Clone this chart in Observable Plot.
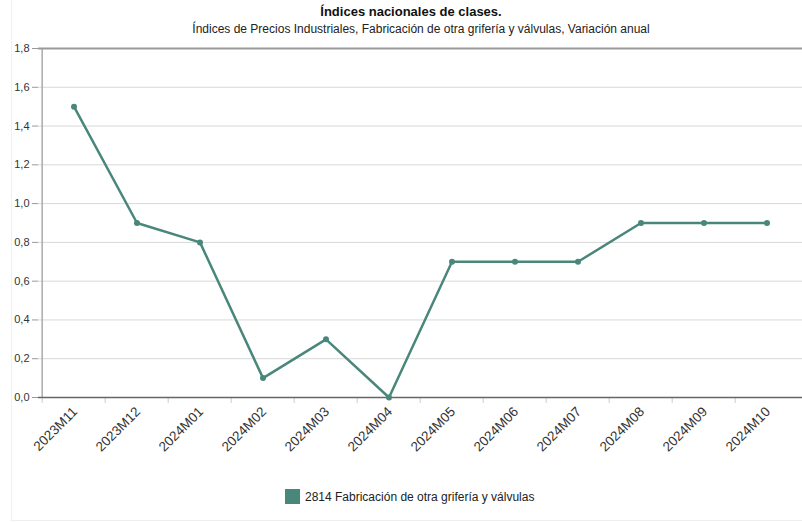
<!DOCTYPE html>
<html>
<head>
<meta charset="utf-8">
<script src="https://cdn.jsdelivr.net/npm/d3@7"></script>
<script src="https://cdn.jsdelivr.net/npm/@observablehq/plot@0.6"></script>
<style>
  html, body { margin: 0; padding: 0; background: #fff; }
  body { width: 802px; height: 522px; position: relative; overflow: hidden; font-family: "Liberation Sans", Arial, sans-serif; }
  #title { position: absolute; top: 4px; left: 10px; width: 802px; text-align: center; font-weight: bold; font-size: 13px; color: #111; }
  #subtitle { position: absolute; top: 22px; left: 20px; width: 802px; text-align: center; font-size: 12px; color: #222; }
  #chart { position: absolute; top: 40px; left: 0; }
  #legend { position: absolute; top: 489px; left: 285px; font-size: 12px; color: #222; display: flex; align-items: center; }
  #legend .sw { width: 15px; height: 15px; margin-right: 5px; }
  #frame { position: absolute; left: 11px; top: 0; width: 790px; height: 520px; border-left: 1px solid #f0f0f0; border-bottom: 1px solid #eee; }
</style>
</head>
<body>
<div id="frame"></div>
<div id="title">Índices nacionales de clases.</div>
<div id="subtitle">Índices de Precios Industriales, Fabricación de otra grifería y válvulas, Variación anual</div>
<div id="chart"></div>
<div id="legend"></div>
<script>
const periods = ["2023M11","2023M12","2024M01","2024M02","2024M03","2024M04","2024M05","2024M06","2024M07","2024M08","2024M09","2024M10"];
const values = [1.5, 0.9, 0.8, 0.1, 0.3, 0.0, 0.7, 0.7, 0.7, 0.9, 0.9, 0.9];
const yTicks = [0, 0.2, 0.4, 0.6, 0.8, 1.0, 1.2, 1.4, 1.6, 1.8];
const seriesName = "2814 Fabricación de otra grifería y válvulas";
const color = "#4a877b";

const data = periods.map((p, i) => ({period: p, value: values[i]}));
const W = 802, mL = 38, mR = 0;
const bw = (W - mL - mR) / periods.length;
const fmt = d => d.toFixed(1).replace(".", ",");

const chart = Plot.plot({
  width: W,
  height: 440,
  marginTop: 8,
  marginBottom: 83,
  marginLeft: mL,
  marginRight: mR,
  style: {fontFamily: "Liberation Sans, Arial, sans-serif", fontSize: "11px", color: "#333", background: "transparent"},
  x: {type: "band", domain: periods, padding: 0},
  y: {domain: [0, 1.8]},
  marks: [
    Plot.gridY(yTicks, {stroke: "#d8d8d8", strokeOpacity: 1}),
    Plot.ruleX([periods[0]], {dx: -bw / 2, stroke: "#aaa", strokeWidth: 1.5}),
    Plot.ruleY([1.8], {stroke: "#999", strokeWidth: 2}),
    Plot.axisY({ticks: yTicks, tickFormat: fmt, tickSize: 6, tickPadding: 3, stroke: "#999", fill: "#333", fontSize: 11, label: null}),
    Plot.axisX({tickSize: 6, tickFormat: () => "", dx: -bw / 2, stroke: "#ccc", label: null}),
    Plot.axisX({tickSize: 0, tickRotate: -45, tickPadding: 12, dx: 1, fill: "#333", fontSize: 13.5, label: null}),
    Plot.ruleY([0], {stroke: "#666", strokeWidth: 1.5}),
    Plot.line(data, {x: "period", y: "value", stroke: color, strokeWidth: 2.5}),
    Plot.dot(data, {x: "period", y: "value", fill: color, r: 3})
  ]
});
document.getElementById("chart").appendChild(chart);

const lg = document.getElementById("legend");
const sw = document.createElement("div");
sw.className = "sw";
sw.style.background = color;
lg.appendChild(sw);
const t = document.createElement("span");
t.textContent = seriesName;
lg.appendChild(t);
</script>
</body>
</html>
